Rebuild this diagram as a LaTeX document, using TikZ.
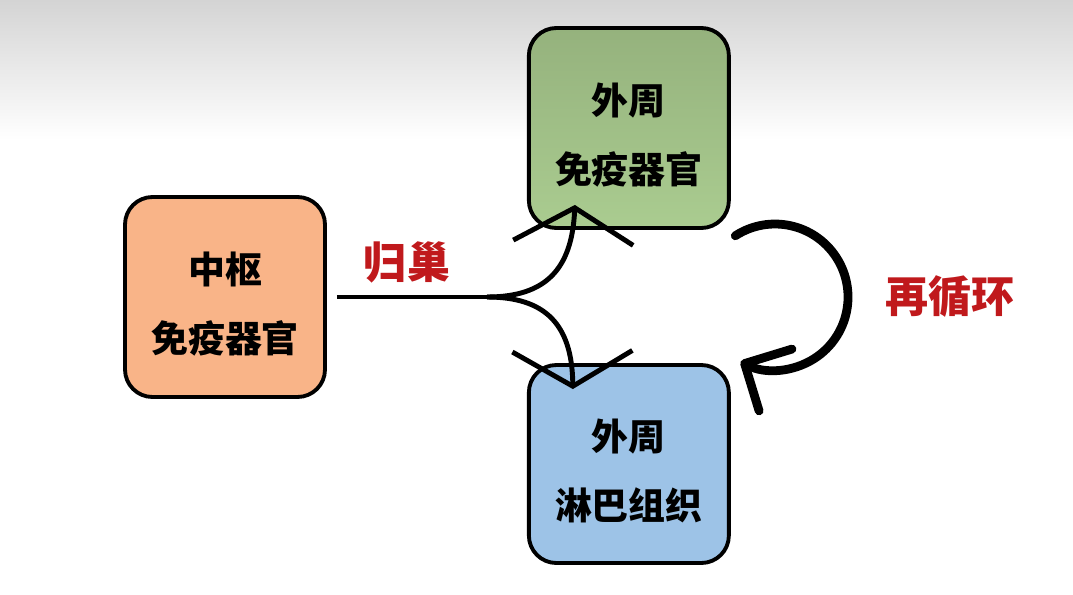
\documentclass[tikz,border=0pt]{standalone}
\usepackage{fontspec}
\setmainfont{Noto Sans CJK SC}
\definecolor{centralfill}{HTML}{F9B488}
\definecolor{organtop}{HTML}{95B27D}
\definecolor{organbottom}{HTML}{AACC90}
\definecolor{lymphfill}{HTML}{9DC3E7}
\definecolor{labelred}{HTML}{C0191C}
\definecolor{bgtop}{HTML}{D4D4D4}
\usetikzlibrary{arrows.meta,positioning}
\newcommand\toppad{\rule{0pt}{26pt}}

\begin{document}
\begin{tikzpicture}[
  organ/.style={draw, line width=2.2pt, rounded corners=0.55cm, minimum width=4cm, minimum height=4cm, align=center, font=\bfseries\fontsize{21}{39.5}\selectfont},
  lbl/.style={text=labelred, font=\bfseries\fontsize{24.5}{28}\selectfont},
  branch/.style={line width=2.8pt, -{Straight Barb[length=0.7cm, width=2.4cm]}},
  loop/.style={line width=5pt, line cap=round, -{Straight Barb[length=0.7cm, width=1.4cm, round]}}
]
  \fill[white] (0,0) rectangle (21.46,11.88);
  \shade[top color=bgtop, bottom color=white] (0,9.08) rectangle (21.46,11.88);
  \useasboundingbox (0,0) rectangle (21.46,11.88);

  \node[organ, fill=centralfill] (central) at (4.5,5.94) {\toppad 中枢\\免疫器官};
  \node[organ, top color=organtop, bottom color=organbottom, right=4.0cm of central, yshift=3.38cm] (organs) {\toppad 外周\\免疫器官};
  \node[organ, fill=lymphfill, right=4.0cm of central, yshift=-3.34cm, minimum height=3.96cm] (lymph) {\toppad 外周\\淋巴组织};

  \node[lbl] (homing) at (8.14,6.64) {归巢};
  \node[lbl] (recirc) at (19.0,5.94) {再循环};

  \coordinate (fork) at (9.74,5.94);
  \coordinate (uptip) at ([xshift=-1.08cm, yshift=0.5cm]organs.south);
  \coordinate (downtip) at ([xshift=-1.12cm, yshift=-0.52cm]lymph.north);
  \coordinate (loopstart) at (14.705,7.164);

  \draw[line width=2.8pt] ([xshift=0.2cm]central.east) -- (fork);
  \draw[branch] (fork) .. controls (10.9,5.94) and (11.44,6.48) .. (uptip);
  \draw[branch] (fork) .. controls (10.9,5.94) and (11.44,5.4) .. (downtip);

  \draw[loop] (loopstart) arc[start angle=123, end angle=-118, radius=1.46cm];
\end{tikzpicture}
\end{document}
